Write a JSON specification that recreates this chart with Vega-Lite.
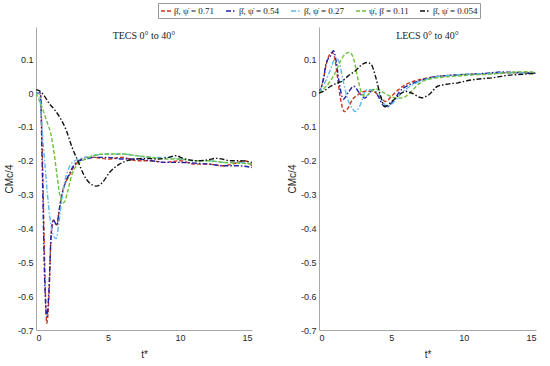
{
  "$schema": "https://vega.github.io/schema/vega-lite/v6.json",
  "padding": {"left": 4, "top": 2, "right": 5, "bottom": 2},
  "spacing": 35,
  "datasets": {
    "d": [
      {"p":"T","s":"a","t":0,"v":0},{"p":"T","s":"a","t":0.3,"v":0},{"p":"T","s":"a","t":0.45,"v":-0.2},{"p":"T","s":"a","t":0.6,"v":-0.5},{"p":"T","s":"a","t":0.75,"v":-0.68},{"p":"T","s":"a","t":0.9,"v":-0.6},{"p":"T","s":"a","t":1.05,"v":-0.42},{"p":"T","s":"a","t":1.2,"v":-0.375},{"p":"T","s":"a","t":1.45,"v":-0.39},{"p":"T","s":"a","t":1.6,"v":-0.35},{"p":"T","s":"a","t":1.8,"v":-0.3},{"p":"T","s":"a","t":2.0,"v":-0.27},{"p":"T","s":"a","t":2.3,"v":-0.245},{"p":"T","s":"a","t":2.6,"v":-0.22},{"p":"T","s":"a","t":3,"v":-0.2},{"p":"T","s":"a","t":3.5,"v":-0.19},{"p":"T","s":"a","t":4,"v":-0.19},{"p":"T","s":"a","t":5,"v":-0.195},{"p":"T","s":"a","t":6,"v":-0.19},{"p":"T","s":"a","t":7,"v":-0.2},{"p":"T","s":"a","t":8,"v":-0.2},{"p":"T","s":"a","t":9,"v":-0.205},{"p":"T","s":"a","t":10,"v":-0.2},{"p":"T","s":"a","t":11,"v":-0.21},{"p":"T","s":"a","t":12,"v":-0.21},{"p":"T","s":"a","t":13,"v":-0.215},{"p":"T","s":"a","t":14,"v":-0.205},{"p":"T","s":"a","t":14.5,"v":-0.2},{"p":"T","s":"a","t":15,"v":-0.215},

      {"p":"T","s":"b","t":0,"v":0},{"p":"T","s":"b","t":0.3,"v":0},{"p":"T","s":"b","t":0.45,"v":-0.25},{"p":"T","s":"b","t":0.6,"v":-0.55},{"p":"T","s":"b","t":0.75,"v":-0.66},{"p":"T","s":"b","t":0.9,"v":-0.58},{"p":"T","s":"b","t":1.05,"v":-0.42},{"p":"T","s":"b","t":1.2,"v":-0.375},{"p":"T","s":"b","t":1.45,"v":-0.39},{"p":"T","s":"b","t":1.6,"v":-0.35},{"p":"T","s":"b","t":1.8,"v":-0.3},{"p":"T","s":"b","t":2.0,"v":-0.27},{"p":"T","s":"b","t":2.3,"v":-0.24},{"p":"T","s":"b","t":2.6,"v":-0.215},{"p":"T","s":"b","t":3,"v":-0.2},{"p":"T","s":"b","t":3.5,"v":-0.195},{"p":"T","s":"b","t":4,"v":-0.19},{"p":"T","s":"b","t":5,"v":-0.19},{"p":"T","s":"b","t":6,"v":-0.195},{"p":"T","s":"b","t":7,"v":-0.195},{"p":"T","s":"b","t":8,"v":-0.2},{"p":"T","s":"b","t":9,"v":-0.205},{"p":"T","s":"b","t":10,"v":-0.205},{"p":"T","s":"b","t":11,"v":-0.207},{"p":"T","s":"b","t":12,"v":-0.21},{"p":"T","s":"b","t":13,"v":-0.215},{"p":"T","s":"b","t":14,"v":-0.215},{"p":"T","s":"b","t":15,"v":-0.22},

      {"p":"T","s":"c","t":0,"v":0},{"p":"T","s":"c","t":0.2,"v":0},{"p":"T","s":"c","t":0.5,"v":-0.15},{"p":"T","s":"c","t":0.8,"v":-0.3},{"p":"T","s":"c","t":1.0,"v":-0.38},{"p":"T","s":"c","t":1.2,"v":-0.42},{"p":"T","s":"c","t":1.4,"v":-0.43},{"p":"T","s":"c","t":1.6,"v":-0.38},{"p":"T","s":"c","t":1.8,"v":-0.31},{"p":"T","s":"c","t":2.0,"v":-0.26},{"p":"T","s":"c","t":2.3,"v":-0.22},{"p":"T","s":"c","t":2.7,"v":-0.2},{"p":"T","s":"c","t":3,"v":-0.195},{"p":"T","s":"c","t":4,"v":-0.185},{"p":"T","s":"c","t":5,"v":-0.18},{"p":"T","s":"c","t":6,"v":-0.18},{"p":"T","s":"c","t":7,"v":-0.185},{"p":"T","s":"c","t":8,"v":-0.19},{"p":"T","s":"c","t":9,"v":-0.19},{"p":"T","s":"c","t":10,"v":-0.195},{"p":"T","s":"c","t":11,"v":-0.2},{"p":"T","s":"c","t":12,"v":-0.2},{"p":"T","s":"c","t":13,"v":-0.205},{"p":"T","s":"c","t":14,"v":-0.205},{"p":"T","s":"c","t":15,"v":-0.21},

      {"p":"T","s":"d","t":0,"v":0},{"p":"T","s":"d","t":0.4,"v":-0.04},{"p":"T","s":"d","t":0.8,"v":-0.09},{"p":"T","s":"d","t":1.0,"v":-0.115},{"p":"T","s":"d","t":1.2,"v":-0.16},{"p":"T","s":"d","t":1.45,"v":-0.24},{"p":"T","s":"d","t":1.65,"v":-0.3},{"p":"T","s":"d","t":1.85,"v":-0.325},{"p":"T","s":"d","t":2.0,"v":-0.32},{"p":"T","s":"d","t":2.2,"v":-0.29},{"p":"T","s":"d","t":2.5,"v":-0.24},{"p":"T","s":"d","t":2.8,"v":-0.215},{"p":"T","s":"d","t":3.2,"v":-0.2},{"p":"T","s":"d","t":3.7,"v":-0.19},{"p":"T","s":"d","t":4.4,"v":-0.181},{"p":"T","s":"d","t":5,"v":-0.18},{"p":"T","s":"d","t":6,"v":-0.18},{"p":"T","s":"d","t":7,"v":-0.185},{"p":"T","s":"d","t":8,"v":-0.19},{"p":"T","s":"d","t":9,"v":-0.195},{"p":"T","s":"d","t":10,"v":-0.195},{"p":"T","s":"d","t":11,"v":-0.2},{"p":"T","s":"d","t":12,"v":-0.2},{"p":"T","s":"d","t":13,"v":-0.205},{"p":"T","s":"d","t":14,"v":-0.207},{"p":"T","s":"d","t":15,"v":-0.21},

      {"p":"T","s":"e","t":0,"v":0.01},{"p":"T","s":"e","t":0.3,"v":0.005},{"p":"T","s":"e","t":0.6,"v":-0.01},{"p":"T","s":"e","t":0.9,"v":-0.03},{"p":"T","s":"e","t":1.3,"v":-0.05},{"p":"T","s":"e","t":1.7,"v":-0.075},{"p":"T","s":"e","t":2.1,"v":-0.11},{"p":"T","s":"e","t":2.5,"v":-0.16},{"p":"T","s":"e","t":2.9,"v":-0.2},{"p":"T","s":"e","t":3.3,"v":-0.24},{"p":"T","s":"e","t":3.7,"v":-0.265},{"p":"T","s":"e","t":4.2,"v":-0.275},{"p":"T","s":"e","t":4.6,"v":-0.265},{"p":"T","s":"e","t":5.1,"v":-0.235},{"p":"T","s":"e","t":5.8,"v":-0.21},{"p":"T","s":"e","t":6.5,"v":-0.198},{"p":"T","s":"e","t":7.6,"v":-0.193},{"p":"T","s":"e","t":8.5,"v":-0.195},{"p":"T","s":"e","t":9.2,"v":-0.19},{"p":"T","s":"e","t":9.7,"v":-0.185},{"p":"T","s":"e","t":10.2,"v":-0.193},{"p":"T","s":"e","t":11.3,"v":-0.2},{"p":"T","s":"e","t":12,"v":-0.197},{"p":"T","s":"e","t":12.5,"v":-0.193},{"p":"T","s":"e","t":13.6,"v":-0.2},{"p":"T","s":"e","t":14.2,"v":-0.2},{"p":"T","s":"e","t":15,"v":-0.205},

      {"p":"L","s":"a","t":0,"v":0},{"p":"L","s":"a","t":0.3,"v":0.04},{"p":"L","s":"a","t":0.5,"v":0.085},{"p":"L","s":"a","t":0.9,"v":0.12},{"p":"L","s":"a","t":1.1,"v":0.1},{"p":"L","s":"a","t":1.3,"v":0.04},{"p":"L","s":"a","t":1.5,"v":-0.02},{"p":"L","s":"a","t":1.75,"v":-0.055},{"p":"L","s":"a","t":2.0,"v":-0.045},{"p":"L","s":"a","t":2.3,"v":-0.02},{"p":"L","s":"a","t":2.7,"v":-0.005},{"p":"L","s":"a","t":3.2,"v":0.005},{"p":"L","s":"a","t":3.7,"v":0.005},{"p":"L","s":"a","t":4.2,"v":-0.01},{"p":"L","s":"a","t":4.6,"v":-0.025},{"p":"L","s":"a","t":5.0,"v":-0.01},{"p":"L","s":"a","t":5.5,"v":0.01},{"p":"L","s":"a","t":6,"v":0.025},{"p":"L","s":"a","t":7,"v":0.04},{"p":"L","s":"a","t":8,"v":0.048},{"p":"L","s":"a","t":9,"v":0.052},{"p":"L","s":"a","t":10,"v":0.055},{"p":"L","s":"a","t":11,"v":0.056},{"p":"L","s":"a","t":12,"v":0.058},{"p":"L","s":"a","t":13,"v":0.06},{"p":"L","s":"a","t":14,"v":0.06},{"p":"L","s":"a","t":15,"v":0.058},

      {"p":"L","s":"b","t":0,"v":0},{"p":"L","s":"b","t":0.3,"v":0.04},{"p":"L","s":"b","t":0.5,"v":0.088},{"p":"L","s":"b","t":0.8,"v":0.11},{"p":"L","s":"b","t":1.0,"v":0.125},{"p":"L","s":"b","t":1.2,"v":0.09},{"p":"L","s":"b","t":1.4,"v":0.03},{"p":"L","s":"b","t":1.68,"v":-0.018},{"p":"L","s":"b","t":2.0,"v":0.0},{"p":"L","s":"b","t":2.4,"v":0.02},{"p":"L","s":"b","t":2.8,"v":0.0},{"p":"L","s":"b","t":3.17,"v":-0.015},{"p":"L","s":"b","t":3.5,"v":0.0},{"p":"L","s":"b","t":3.75,"v":0.01},{"p":"L","s":"b","t":4.1,"v":-0.01},{"p":"L","s":"b","t":4.4,"v":-0.035},{"p":"L","s":"b","t":4.66,"v":-0.042},{"p":"L","s":"b","t":5.0,"v":-0.03},{"p":"L","s":"b","t":5.7,"v":0.01},{"p":"L","s":"b","t":6.3,"v":0.025},{"p":"L","s":"b","t":6.85,"v":0.035},{"p":"L","s":"b","t":8,"v":0.048},{"p":"L","s":"b","t":9,"v":0.052},{"p":"L","s":"b","t":10.3,"v":0.055},{"p":"L","s":"b","t":11.5,"v":0.058},{"p":"L","s":"b","t":12.6,"v":0.062},{"p":"L","s":"b","t":14,"v":0.06},{"p":"L","s":"b","t":15,"v":0.058},

      {"p":"L","s":"c","t":0,"v":0},{"p":"L","s":"c","t":0.4,"v":0.03},{"p":"L","s":"c","t":0.8,"v":0.07},{"p":"L","s":"c","t":1.15,"v":0.105},{"p":"L","s":"c","t":1.4,"v":0.09},{"p":"L","s":"c","t":1.7,"v":0.03},{"p":"L","s":"c","t":2.0,"v":-0.02},{"p":"L","s":"c","t":2.3,"v":-0.045},{"p":"L","s":"c","t":2.5,"v":-0.055},{"p":"L","s":"c","t":2.8,"v":-0.04},{"p":"L","s":"c","t":3.3,"v":0.01},{"p":"L","s":"c","t":3.7,"v":0.008},{"p":"L","s":"c","t":4.1,"v":0.0},{"p":"L","s":"c","t":4.4,"v":-0.025},{"p":"L","s":"c","t":4.7,"v":-0.04},{"p":"L","s":"c","t":5.1,"v":-0.03},{"p":"L","s":"c","t":5.7,"v":0.0},{"p":"L","s":"c","t":6.3,"v":0.02},{"p":"L","s":"c","t":7,"v":0.035},{"p":"L","s":"c","t":8,"v":0.047},{"p":"L","s":"c","t":9,"v":0.052},{"p":"L","s":"c","t":10,"v":0.055},{"p":"L","s":"c","t":11,"v":0.057},{"p":"L","s":"c","t":12,"v":0.058},{"p":"L","s":"c","t":13,"v":0.06},{"p":"L","s":"c","t":14,"v":0.06},{"p":"L","s":"c","t":15,"v":0.058},

      {"p":"L","s":"d","t":0,"v":0},{"p":"L","s":"d","t":0.5,"v":0.02},{"p":"L","s":"d","t":1.0,"v":0.05},{"p":"L","s":"d","t":1.5,"v":0.095},{"p":"L","s":"d","t":1.8,"v":0.115},{"p":"L","s":"d","t":2.1,"v":0.12},{"p":"L","s":"d","t":2.4,"v":0.1},{"p":"L","s":"d","t":2.7,"v":0.04},{"p":"L","s":"d","t":2.95,"v":0.0},{"p":"L","s":"d","t":3.2,"v":-0.01},{"p":"L","s":"d","t":3.5,"v":0.0},{"p":"L","s":"d","t":3.9,"v":0.012},{"p":"L","s":"d","t":4.3,"v":0.005},{"p":"L","s":"d","t":4.7,"v":-0.005},{"p":"L","s":"d","t":5.1,"v":-0.012},{"p":"L","s":"d","t":5.6,"v":-0.015},{"p":"L","s":"d","t":6.0,"v":-0.01},{"p":"L","s":"d","t":6.5,"v":0.01},{"p":"L","s":"d","t":7.0,"v":0.03},{"p":"L","s":"d","t":7.5,"v":0.04},{"p":"L","s":"d","t":8.4,"v":0.046},{"p":"L","s":"d","t":9.5,"v":0.05},{"p":"L","s":"d","t":10.5,"v":0.053},{"p":"L","s":"d","t":12,"v":0.056},{"p":"L","s":"d","t":13.5,"v":0.062},{"p":"L","s":"d","t":14.5,"v":0.063},{"p":"L","s":"d","t":15,"v":0.06},

      {"p":"L","s":"e","t":0,"v":0},{"p":"L","s":"e","t":0.3,"v":0.005},{"p":"L","s":"e","t":0.8,"v":0.02},{"p":"L","s":"e","t":1.3,"v":0.03},{"p":"L","s":"e","t":1.6,"v":0.035},{"p":"L","s":"e","t":2.0,"v":0.05},{"p":"L","s":"e","t":2.5,"v":0.065},{"p":"L","s":"e","t":3.0,"v":0.085},{"p":"L","s":"e","t":3.3,"v":0.09},{"p":"L","s":"e","t":3.6,"v":0.085},{"p":"L","s":"e","t":3.9,"v":0.05},{"p":"L","s":"e","t":4.2,"v":0.0},{"p":"L","s":"e","t":4.55,"v":-0.04},{"p":"L","s":"e","t":4.9,"v":-0.03},{"p":"L","s":"e","t":5.3,"v":-0.015},{"p":"L","s":"e","t":5.7,"v":0.0},{"p":"L","s":"e","t":6.0,"v":0.005},{"p":"L","s":"e","t":6.4,"v":0.0},{"p":"L","s":"e","t":7.1,"v":-0.014},{"p":"L","s":"e","t":7.6,"v":-0.005},{"p":"L","s":"e","t":8.2,"v":0.02},{"p":"L","s":"e","t":9.0,"v":0.027},{"p":"L","s":"e","t":9.6,"v":0.03},{"p":"L","s":"e","t":10.3,"v":0.037},{"p":"L","s":"e","t":11.2,"v":0.042},{"p":"L","s":"e","t":12,"v":0.045},{"p":"L","s":"e","t":13,"v":0.052},{"p":"L","s":"e","t":14,"v":0.055},{"p":"L","s":"e","t":14.9,"v":0.058}
    ],
    "names": [
      {"s":"a","name":"β̇, ψ̇ = 0.71"},
      {"s":"b","name":"β̇, ψ̇ = 0.54"},
      {"s":"c","name":"β̇, ψ̇ = 0.27"},
      {"s":"d","name":"ψ̇, β̇ = 0.11"},
      {"s":"e","name":"β̇, ψ̇ = 0.054"}
    ]
  },
  "hconcat": [
    {
      "width": 216,
      "height": 303,
      "title": {"text": "TECS 0° to 40°"},
      "data": {"name": "d"},
      "transform": [
        {"filter": "datum.p == 'T'"},
        {"lookup": "s", "from": {"data": {"name": "names"}, "key": "s", "fields": ["name"]}}
      ],
      "mark": {"type": "line", "strokeWidth": 1.4, "interpolate": "monotone", "clip": true},
      "encoding": {
        "x": {"field": "t", "type": "quantitative", "scale": {"domain": [0, 15], "nice": false}, "axis": {"values": [0, 5, 10, 15], "title": "t*"}},
        "y": {"field": "v", "type": "quantitative", "scale": {"domain": [-0.7, 0.195], "nice": false, "zero": false}, "axis": {"values": [-0.7, -0.6, -0.5, -0.4, -0.3, -0.2, -0.1, 0, 0.1], "labelExpr": "toString(datum.value)", "title": "CMc/4"}},
        "color": {"field": "name", "type": "nominal", "sort": null, "scale": {"domain": ["β̇, ψ̇ = 0.71", "β̇, ψ̇ = 0.54", "β̇, ψ̇ = 0.27", "ψ̇, β̇ = 0.11", "β̇, ψ̇ = 0.054"], "range": ["#c8361e", "#2020a8", "#5ab9e6", "#6cc23a", "#111111"]}},
        "strokeDash": {"field": "name", "type": "nominal", "sort": null, "scale": {"domain": ["β̇, ψ̇ = 0.71", "β̇, ψ̇ = 0.54", "β̇, ψ̇ = 0.27", "ψ̇, β̇ = 0.11", "β̇, ψ̇ = 0.054"], "range": [[4, 2], [5, 2, 1.5, 2], [5, 2, 1.5, 2], [4, 2], [5, 2, 1.5, 2]]}}
      }
    },
    {
      "width": 217,
      "height": 303,
      "title": {"text": "LECS 0° to 40°"},
      "data": {"name": "d"},
      "transform": [
        {"filter": "datum.p == 'L'"},
        {"lookup": "s", "from": {"data": {"name": "names"}, "key": "s", "fields": ["name"]}}
      ],
      "mark": {"type": "line", "strokeWidth": 1.4, "interpolate": "monotone", "clip": true},
      "encoding": {
        "x": {"field": "t", "type": "quantitative", "scale": {"domain": [0, 15], "nice": false}, "axis": {"values": [0, 5, 10, 15], "title": "t*"}},
        "y": {"field": "v", "type": "quantitative", "scale": {"domain": [-0.7, 0.195], "nice": false, "zero": false}, "axis": {"values": [-0.7, -0.6, -0.5, -0.4, -0.3, -0.2, -0.1, 0, 0.1], "labelExpr": "toString(datum.value)", "title": "CMc/4"}},
        "color": {"field": "name", "type": "nominal", "sort": null, "scale": {"domain": ["β̇, ψ̇ = 0.71", "β̇, ψ̇ = 0.54", "β̇, ψ̇ = 0.27", "ψ̇, β̇ = 0.11", "β̇, ψ̇ = 0.054"], "range": ["#c8361e", "#2020a8", "#5ab9e6", "#6cc23a", "#111111"]}},
        "strokeDash": {"field": "name", "type": "nominal", "sort": null, "scale": {"domain": ["β̇, ψ̇ = 0.71", "β̇, ψ̇ = 0.54", "β̇, ψ̇ = 0.27", "ψ̇, β̇ = 0.11", "β̇, ψ̇ = 0.054"], "range": [[4, 2], [5, 2, 1.5, 2], [5, 2, 1.5, 2], [4, 2], [5, 2, 1.5, 2]]}}
      }
    }
  ],
  "config": {
    "view": {"stroke": null},
    "background": "white",
    "title": {"font": "Liberation Serif", "fontSize": 10, "fontWeight": "normal", "color": "#222", "anchor": "middle", "offset": -14, "baseline": "alphabetic"},
    "axis": {
      "grid": false,
      "ticks": false,
      "domainColor": "#a8a8a8",
      "domainWidth": 1,
      "labelFont": "Liberation Sans",
      "labelFontSize": 9,
      "labelColor": "#262626",
      "labelPadding": 3,
      "titleFont": "Liberation Sans",
      "titleFontSize": 10,
      "titleFontWeight": "normal",
      "titleColor": "#262626"
    },
    "axisY": {"titlePadding": 3},
    "axisX": {"titlePadding": 7},
    "legend": {
      "orient": "none",
      "legendX": 122,
      "legendY": -24,
      "direction": "horizontal",
      "columns": 5,
      "title": null,
      "symbolType": "stroke",
      "symbolSize": 100,
      "symbolStrokeWidth": 1.5,
      "labelFont": "Liberation Serif",
      "labelFontSize": 9,
      "labelColor": "#222",
      "labelOffset": 2,
      "labelLimit": 0,
      "columnPadding": 8,
      "padding": 2,
      "strokeColor": "#999",
      "fillColor": "white"
    }
  }
}
